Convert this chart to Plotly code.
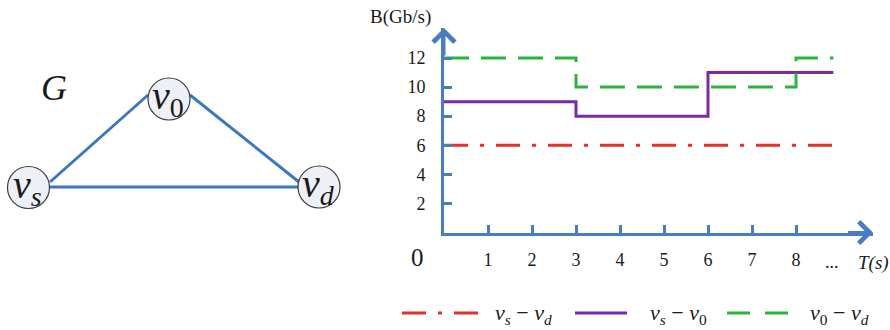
import plotly.graph_objects as go

# ---------------- data ----------------
# bandwidth (Gb/s) of each link over time T(s), step functions
t_vs_vd = [0, 8.85]
b_vs_vd = [6, 6]
t_vs_v0 = [0, 3, 6, 8.85]
b_vs_v0 = [9, 8, 11, 11]
t_v0_vd = [0, 3, 8, 8.85]
b_v0_vd = [12, 10, 12, 12]
x_tick_vals = [1, 2, 3, 4, 5, 6, 7, 8]
y_tick_vals = [2, 4, 6, 8, 10, 12]
series_labels = [
    "<i>v</i><sub><i>s</i></sub> − <i>v</i><sub><i>d</i></sub>",
    "<i>v</i><sub><i>s</i></sub> − <i>v</i><sub>0</sub>",
    "<i>v</i><sub>0</sub> − <i>v</i><sub><i>d</i></sub>",
]
# network graph G
node_names = ["vs", "v0", "vd"]
node_labels = {
    "vs": "<i>v</i><sub><i>s</i></sub>",
    "v0": "<i>v</i><sub>0</sub>",
    "vd": "<i>v</i><sub><i>d</i></sub>",
}
edges = [("vs", "v0"), ("v0", "vd"), ("vs", "vd")]

# ---------------- layout / style ----------------
W, H = 890, 330
FONT = "Liberation Serif, Times New Roman, serif"
AX = "#4a7cc4"
RED = "#e2322b"
PURPLE = "#7a2aa8"
GREEN = "#2ab63a"
EDGE = "#3b78c2"
TXT = "#1a1a1a"

X0, XS = 444.0, 44.0      # px of T=0, px per second
Y0, YS = 232.5, 14.54     # px of B=0, px per Gb/s
x_end = 9.75
y_end = (Y0 - 28) / YS

# node placement (pixel space of the overlay axes)
node_pos = {"vs": (28.5, 187.5), "v0": (169, 99), "vd": (319, 187)}
node_size = 42
# edge attachment points on the circles
edge_ports = {
    ("vs", "v0"): ((50, 182), (148, 95)),
    ("v0", "vd"): ((190, 95), (299, 182)),
    ("vs", "vd"): ((50, 187), (299, 187)),
}

fig = go.Figure()

# ---- chart traces ----
fig.add_trace(go.Scatter(x=t_vs_vd, y=b_vs_vd, mode="lines", line_shape="hv",
                         line=dict(color=RED, width=3, dash="24px,12px,4px,12px"),
                         xaxis="x", yaxis="y", showlegend=False, hoverinfo="skip"))
fig.add_trace(go.Scatter(x=t_vs_v0, y=b_vs_v0, mode="lines", line_shape="hv",
                         line=dict(color=PURPLE, width=3),
                         xaxis="x", yaxis="y", showlegend=False, hoverinfo="skip"))
fig.add_trace(go.Scatter(x=t_v0_vd, y=b_v0_vd, mode="lines", line_shape="hv",
                         line=dict(color=GREEN, width=3, dash="25px,12px"),
                         xaxis="x", yaxis="y", showlegend=False, hoverinfo="skip"))

# ---- graph G (pixel-space overlay axes x2/y2) ----
ex, ey = [], []
for e in edges:
    (a, b) = edge_ports[e]
    ex += [a[0], b[0], None]
    ey += [a[1], b[1], None]
fig.add_trace(go.Scatter(x=ex, y=ey, mode="lines", line=dict(color=EDGE, width=3),
                         xaxis="x2", yaxis="y2", showlegend=False, hoverinfo="skip"))
fig.add_trace(go.Scatter(x=[node_pos[n][0] for n in node_names],
                         y=[node_pos[n][1] for n in node_names],
                         mode="markers",
                         marker=dict(size=node_size, color="#eef0f8",
                                     line=dict(color="#3a3a3a", width=1.2)),
                         xaxis="x2", yaxis="y2", showlegend=False, hoverinfo="skip"))

annotations = []
for n in node_names:
    x, y = node_pos[n]
    annotations.append(dict(x=x - 1, y=y - 1, xref="x2", yref="y2", text=node_labels[n],
                            showarrow=False, xanchor="center", yanchor="middle",
                            font=dict(family=FONT, size=40, color=TXT)))
annotations.append(dict(x=54, y=88, xref="x2", yref="y2", text="<i>G</i>", showarrow=False,
                        xanchor="center", yanchor="middle",
                        font=dict(family=FONT, size=36, color=TXT)))

# axis arrow heads
annotations.append(dict(x=x_end, y=0, ax=x_end - 0.6, ay=0, xref="x", yref="y",
                        axref="x", ayref="y", text="", showarrow=True, arrowhead=4,
                        arrowsize=1.4, arrowwidth=3, arrowcolor=AX, standoff=0))
annotations.append(dict(x=0, y=y_end, ax=0, ay=y_end - 2, xref="x", yref="y",
                        axref="x", ayref="y", text="", showarrow=True, arrowhead=4,
                        arrowsize=1.4, arrowwidth=3, arrowcolor=AX, standoff=0))

# chart texts
annotations.append(dict(x=417, y=257, xref="x2", yref="y2", text="0", showarrow=False,
                        xanchor="center", yanchor="middle",
                        font=dict(family=FONT, size=25, color=TXT)))
annotations.append(dict(x=832, y=262, xref="x2", yref="y2", text="...", showarrow=False,
                        xanchor="center", yanchor="middle",
                        font=dict(family=FONT, size=18, color=TXT)))
annotations.append(dict(x=856, y=263, xref="x2", yref="y2", text="<i>T(s)</i>", showarrow=False,
                        xanchor="left", yanchor="middle",
                        font=dict(family=FONT, size=19, color=TXT)))
annotations.append(dict(x=400, y=17, xref="x2", yref="y2", text="B(Gb/s)", showarrow=False,
                        xanchor="center", yanchor="middle",
                        font=dict(family=FONT, size=19, color=TXT)))

# custom legend
legend_y = 313
legend_items = [
    (402, 478, RED, "24px,12px,4px,12px", 493),
    (575, 627, PURPLE, "solid", 648),
    (727, 789, GREEN, "23px,15px", 808),
]
shapes = []
for (xa, xb, col, dash, tx), lab in zip(legend_items, series_labels):
    shapes.append(dict(type="line", xref="x2", yref="y2", x0=xa, x1=xb,
                       y0=legend_y, y1=legend_y, line=dict(color=col, width=3, dash=dash)))
    annotations.append(dict(x=tx, y=legend_y + 1, xref="x2", yref="y2", text=lab,
                            showarrow=False, xanchor="left", yanchor="middle",
                            font=dict(family=FONT, size=22, color=TXT)))

fig.update_layout(
    width=W, height=H, margin=dict(l=0, r=0, t=0, b=0),
    paper_bgcolor="white", plot_bgcolor="rgba(0,0,0,0)",
    font=dict(family=FONT),
    xaxis=dict(domain=[X0 / W, (X0 + x_end * XS) / W], range=[0, x_end], anchor="y",
               showline=True, linecolor=AX, linewidth=3, ticks="inside", ticklen=8,
               tickwidth=3, tickcolor=AX, tickvals=x_tick_vals, showgrid=False,
               zeroline=False, ticklabelstandoff=9,
               tickfont=dict(family=FONT, size=18, color=TXT)),
    yaxis=dict(domain=[1 - Y0 / H, 1 - 28 / H], range=[0, y_end], anchor="x",
               showline=True, linecolor=AX, linewidth=3, ticks="inside", ticklen=8,
               tickwidth=3, tickcolor=AX, tickvals=y_tick_vals, showgrid=False,
               zeroline=False, ticklabelstandoff=12,
               tickfont=dict(family=FONT, size=18, color=TXT)),
    xaxis2=dict(domain=[0, 1], range=[0, W], anchor="y2", visible=False),
    yaxis2=dict(domain=[0, 1], range=[H, 0], anchor="x2", visible=False),
    annotations=annotations, shapes=shapes,
)

fig.write_html("out.html")
